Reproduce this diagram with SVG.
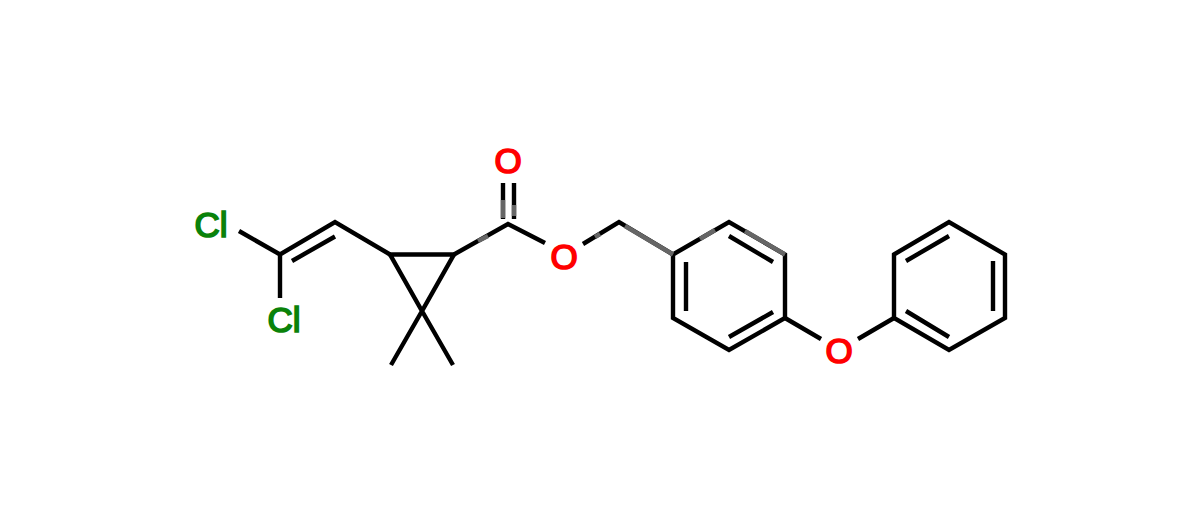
<svg xmlns="http://www.w3.org/2000/svg" width="1200" height="511" viewBox="0 0 1200 511">
<style>
.b{stroke:#000;stroke-width:4.4;fill:none;stroke-linecap:butt;stroke-linejoin:miter}
.g{stroke:#666;stroke-width:4.4;fill:none;stroke-linecap:butt}
text{font-family:"Liberation Sans",Arial,sans-serif;font-size:35px;text-anchor:middle;stroke-width:1.7}
.cl{fill:#0a820a;stroke:#0a820a}
.o{fill:#f00;stroke:#f00}
</style>
<rect width="1200" height="511" fill="#fff"/>
<g id="connectors">
<path class="b" d="M239 231L280 254.5M280 254.5V298M280 254.5L335 222L390 254.5M292 261L335 236.5"/>
<path class="b" d="M390 254.5H454L422 311ZM422 311L391 365M422 311L453 365"/>
<path class="b" d="M454 254.5L508 224L545 243M503 183V219M514 183V219"/>
<path class="b" d="M583 244L619 222L673 254.5"/>
<path class="b" d="M673 254.5L729 222L785 254.5V318L729 350L673 318ZM686 262V311M729 236L773 262M729 337L773 312"/>
<path class="b" d="M785 318L821 339M858 339L894 318"/>
<path class="b" d="M894 254.5L949 222L1005 254.5V318L949 350L894 318ZM906 261L949 236M993 261V311M906 311L949 337"/>
<path class="g" d="M503 200V218M514 205V216M488 236L478 241M595 237L600 234M625 226L673 254.5M700 239L715 230M745 231L785 254.5"/>
</g>
<g id="cl1"><text class="cl" x="211" y="237">Cl</text></g>
<g id="cl2"><text class="cl" x="284" y="332">Cl</text></g>
<g id="o1"><text class="o" x="508" y="173">O</text></g>
<g id="o2"><text class="o" x="564" y="269">O</text></g>
<g id="o3"><text class="o" x="839" y="363">O</text></g>
</svg>
